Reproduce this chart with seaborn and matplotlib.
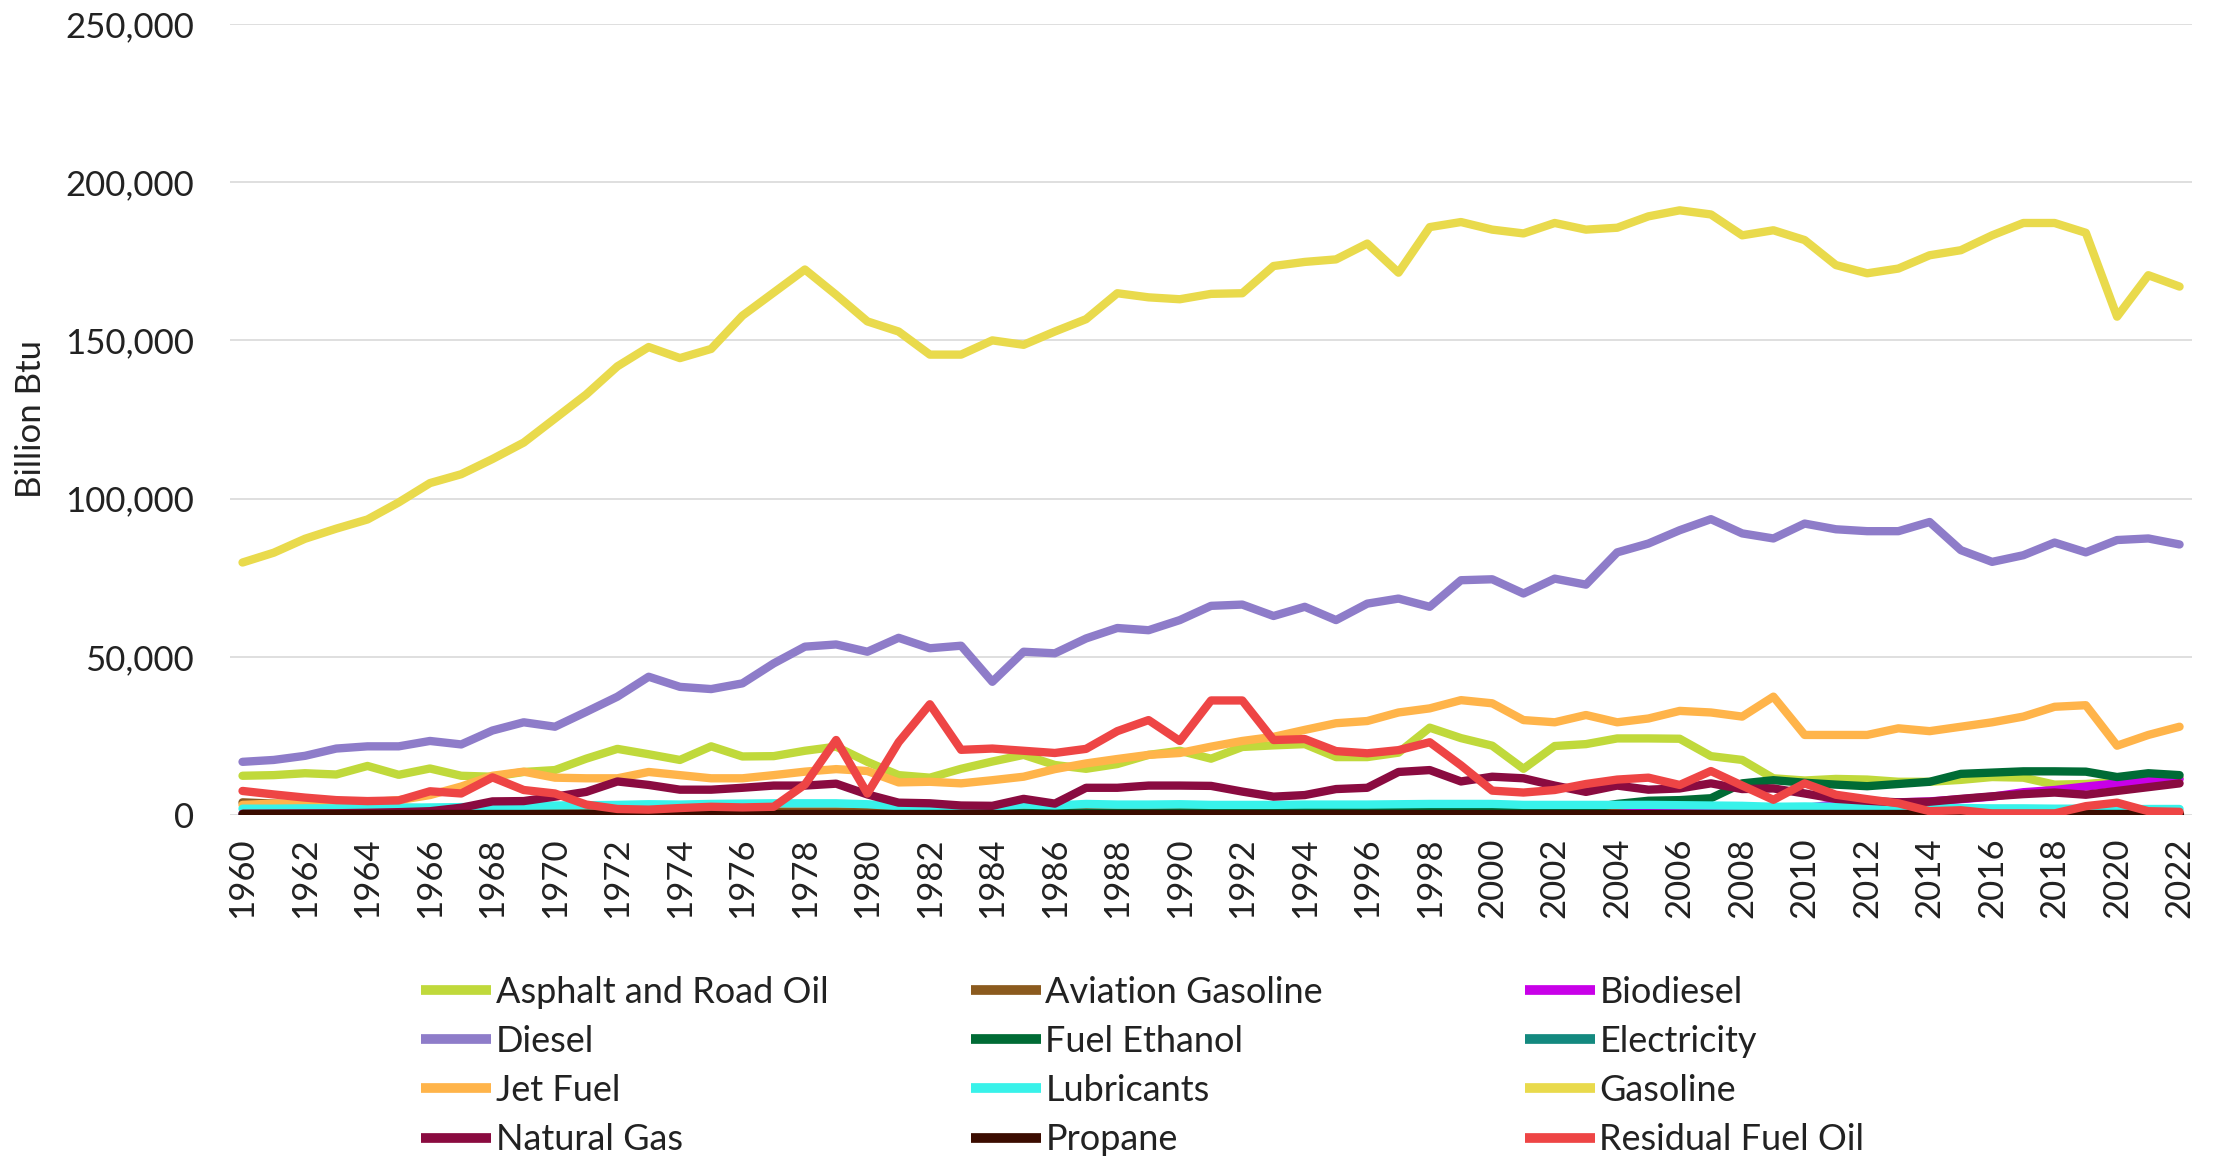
import matplotlib
matplotlib.use("Agg")
import matplotlib.pyplot as plt
import seaborn as sns
import pandas as pd
from matplotlib.ticker import FuncFormatter, MultipleLocator

years = list(range(1960, 2023))

asphalt = [12400, 12600, 13200, 12800, 15500, 12700, 14700, 12400, 12100, 13600,
           14200, 17800, 20900, 19200, 17400, 21700, 18500, 18600, 20300, 21600,
           16800, 12600, 11800, 14600, 16900, 19000, 15800, 14600, 16100, 19000,
           20300, 17800, 21500, 22000, 22400, 18300, 18300, 19700, 27600, 24300,
           21900, 14600, 21800, 22400, 24200, 24200, 24100, 18600, 17400, 11600,
           10900, 11400, 11200, 10500, 10500, 11100, 12000, 11800, 9600, 9800,
           10600, 11600, 11700]
aviation_gasoline = [4000, 3600, 3200, 2900, 2600, 2300, 2100, 1900, 1700, 1500,
                     1400, 1300, 1200, 1200, 1100, 1100, 1100, 1100, 1100, 1100,
                     1000, 900, 900, 800, 800, 800, 800, 800, 700, 700,
                     700, 700, 700, 700, 700, 700, 700, 700, 700, 700,
                     700, 600, 600, 600, 600, 600, 600, 600, 500, 500,
                     500, 500, 400, 400, 400, 400, 400, 400, 400, 400,
                     300, 400, 400]
biodiesel = [0, 0, 0, 0, 0, 0, 0, 0, 0, 0,
             0, 0, 0, 0, 0, 0, 0, 0, 0, 0,
             0, 0, 0, 0, 0, 0, 0, 0, 0, 0,
             0, 0, 0, 0, 0, 0, 0, 0, 0, 0,
             0, 50, 100, 150, 300, 900, 1500, 1600, 1500, 1800,
             2200, 3400, 3500, 4000, 4300, 5000, 5800, 7200, 7900, 9000,
             10000, 10700, 11300]
diesel = [16800, 17400, 18700, 21000, 21700, 21700, 23400, 22300, 26700, 29300,
          27900, 32600, 37400, 43700, 40500, 39800, 41600, 47900, 53200, 53900,
          51600, 56000, 52700, 53500, 42100, 51600, 51100, 55800, 59100, 58400,
          61600, 66100, 66500, 62900, 65800, 61600, 66800, 68400, 65800, 74200,
          74500, 70000, 74700, 72800, 83000, 85800, 90000, 93500, 89000, 87400,
          92100, 90300, 89700, 89700, 92600, 83700, 80000, 82100, 86100, 83000,
          86900, 87400, 85500]
fuel_ethanol = [0, 0, 0, 0, 0, 0, 0, 0, 0, 0,
                0, 0, 0, 0, 0, 0, 0, 0, 0, 0,
                100, 200, 300, 400, 500, 600, 700, 700, 700, 700,
                800, 800, 900, 900, 1000, 1000, 900, 1000, 1100, 1200,
                1300, 1400, 1600, 2000, 3500, 4500, 4700, 5300, 10000, 11000,
                10200, 9600, 9100, 9800, 10500, 13000, 13400, 13800, 13800, 13700,
                12000, 13200, 12600]
electricity = [400, 400, 400, 350, 350, 350, 300, 300, 300, 300,
               300, 300, 300, 250, 250, 250, 250, 250, 250, 250,
               250, 250, 250, 250, 250, 250, 250, 250, 250, 250,
               250, 250, 250, 250, 250, 250, 250, 250, 250, 250,
               250, 250, 250, 250, 250, 250, 250, 250, 250, 250,
               250, 300, 300, 300, 300, 350, 350, 400, 400, 450,
               450, 500, 500]
jet_fuel = [3200, 3600, 3700, 3800, 4000, 4700, 6300, 9000, 12400, 13700,
            11800, 11600, 11600, 13600, 12600, 11600, 11600, 12600, 13700, 14500,
            13900, 10300, 10500, 10000, 11000, 12100, 14500, 16300, 17700, 19000,
            19600, 21600, 23400, 24700, 26900, 29000, 29700, 32400, 33700, 36300,
            35300, 30000, 29300, 31600, 29300, 30500, 32900, 32400, 31100, 37400,
            25300, 25300, 25300, 27400, 26500, 27900, 29300, 31100, 34200, 34700,
            21900, 25300, 27900]
lubricants = [2000, 2000, 2100, 2100, 2200, 2300, 2400, 2500, 2700, 2900,
              3000, 3100, 3200, 3400, 3300, 3500, 3600, 3700, 3700, 3700,
              3400, 2800, 2600, 2600, 2700, 3300, 3000, 3500, 3300, 3300,
              3400, 3200, 3200, 3200, 3300, 3300, 3300, 3400, 3500, 3500,
              3500, 3200, 3200, 3200, 3200, 3200, 3100, 3000, 2900, 2600,
              2700, 2600, 2500, 2400, 2300, 2200, 2100, 2100, 2000, 2000,
              1800, 1900, 1900]
gasoline = [79800, 82900, 87300, 90500, 93400, 98800, 104900, 107700, 112500, 117700,
            125300, 132900, 141800, 147900, 144400, 147300, 157800, 165100, 172400, 164400,
            156000, 152800, 145500, 145500, 150000, 148600, 152800, 156700, 164900, 163600,
            163000, 164700, 164900, 173500, 174800, 175600, 180600, 171400, 185800, 187400,
            185000, 183800, 187100, 185000, 185600, 189200, 191100, 189800, 183200, 184800,
            181700, 173800, 171200, 172700, 176900, 178500, 183200, 187100, 187100, 184000,
            157500, 170600, 167000]
natural_gas = [400, 450, 500, 550, 700, 900, 1200, 2300, 4300, 4400,
               5800, 7300, 10600, 9500, 8000, 8000, 8600, 9300, 9300, 9900,
               6500, 3900, 3700, 3000, 2900, 5100, 3600, 8600, 8600, 9300,
               9300, 9200, 7400, 5800, 6300, 8200, 8600, 13600, 14200, 10600,
               12100, 11600, 9300, 7300, 9300, 8000, 8400, 10000, 8200, 8400,
               6800, 5100, 4500, 4000, 4200, 5100, 5900, 6600, 7100, 6400,
               7600, 8800, 10000]
propane = [300, 300, 300, 300, 300, 300, 300, 300, 300, 300,
           300, 300, 300, 300, 300, 300, 300, 300, 300, 300,
           300, 300, 300, 300, 300, 300, 300, 300, 300, 300,
           300, 300, 300, 300, 300, 300, 300, 300, 300, 300,
           300, 300, 300, 300, 300, 300, 300, 300, 300, 300,
           300, 300, 300, 300, 300, 300, 300, 300, 300, 300,
           300, 300, 300]
residual_fuel_oil = [7600, 6500, 5500, 4700, 4400, 4600, 7500, 6800, 11900, 7900,
                     6800, 3300, 1900, 1700, 2200, 2600, 2400, 2600, 9600, 23700,
                     6800, 23000, 35000, 20600, 21000, 20300, 19600, 20900, 26500, 30000,
                     23400, 36200, 36200, 23700, 24000, 20200, 19500, 20500, 23000, 15700,
                     7700, 7100, 7900, 9800, 11200, 11800, 9500, 13900, 9300, 4800,
                     10000, 6400, 5000, 3700, 1200, 1500, 500, 500, 500, 2800,
                     3900, 1200, 1000]

fuels = ["Asphalt and Road Oil", "Aviation Gasoline", "Biodiesel",
         "Diesel", "Fuel Ethanol", "Electricity",
         "Jet Fuel", "Lubricants", "Gasoline",
         "Natural Gas", "Propane", "Residual Fuel Oil"]
series = [asphalt, aviation_gasoline, biodiesel,
          diesel, fuel_ethanol, electricity,
          jet_fuel, lubricants, gasoline,
          natural_gas, propane, residual_fuel_oil]
colors = ["#C0D93B", "#8B5A1E", "#C800E8",
          "#8E7CC9", "#006B35", "#13897F",
          "#FFB44A", "#38F2EA", "#E9DA4C",
          "#8A0B40", "#3B0C00", "#EE4545"]
palette = dict(zip(fuels, colors))

rows = []
for name, vals in zip(fuels, series):
    for y, v in zip(years, vals):
        rows.append({"Year": y, "Value": v, "Fuel": name})
df = pd.DataFrame(rows)

sns.set_style("white")
plt.rcParams['font.family'] = ['Lato', 'DejaVu Sans']
text_color = "#222222"

fig = plt.figure(figsize=(22.16, 11.58), dpi=100)
ax = fig.add_axes([0.1038, 0.2962, 0.8854, 0.6831])

sns.lineplot(data=df, x="Year", y="Value", hue="Fuel", hue_order=fuels,
             palette=palette, linewidth=6.0, ax=ax, legend=True,
             solid_joinstyle="round", solid_capstyle="round")
handles, labels = ax.get_legend_handles_labels()
ax.get_legend().remove()

ax.set_xlim(1959.6, 2022.4)
ax.set_ylim(0, 250000)
ax.set_xticks(list(range(1960, 2023, 2)))
ax.yaxis.set_major_locator(MultipleLocator(50000))
ax.yaxis.set_major_formatter(FuncFormatter(lambda v, p: f"{v:,.0f}"))
ax.tick_params(axis="x", labelrotation=90, length=0, pad=16, labelsize=25, colors=text_color)
ax.tick_params(axis="y", length=0, pad=26, labelsize=25, colors=text_color)
ax.grid(axis="y", color="#D9D9D9", linewidth=1.2)
ax.grid(axis="x", visible=False)
ax.set_axisbelow(True)
for s in ax.spines.values():
    s.set_visible(False)
ax.set_xlabel("")
ax.set_ylabel("Billion Btu", fontsize=25, color=text_color)
ax.yaxis.set_label_coords(-0.0933, 0.5)

col_x = [0.190, 0.438, 0.688]
for i in range(3):
    hs = [handles[j] for j in range(i, 12, 3)]
    ls = [labels[j] for j in range(i, 12, 3)]
    leg = fig.legend(hs, ls, loc="center left", bbox_to_anchor=(col_x[i], 0.0795),
                     frameon=False, fontsize=26, handlelength=1.95, handletextpad=0.12,
                     labelspacing=0.45, borderaxespad=0, borderpad=0)
    for t in leg.get_texts():
        t.set_color(text_color)
    for l in leg.get_lines():
        l.set_linewidth(7)
        l.set_solid_capstyle("butt")

fig.savefig("out.png", dpi=100)
